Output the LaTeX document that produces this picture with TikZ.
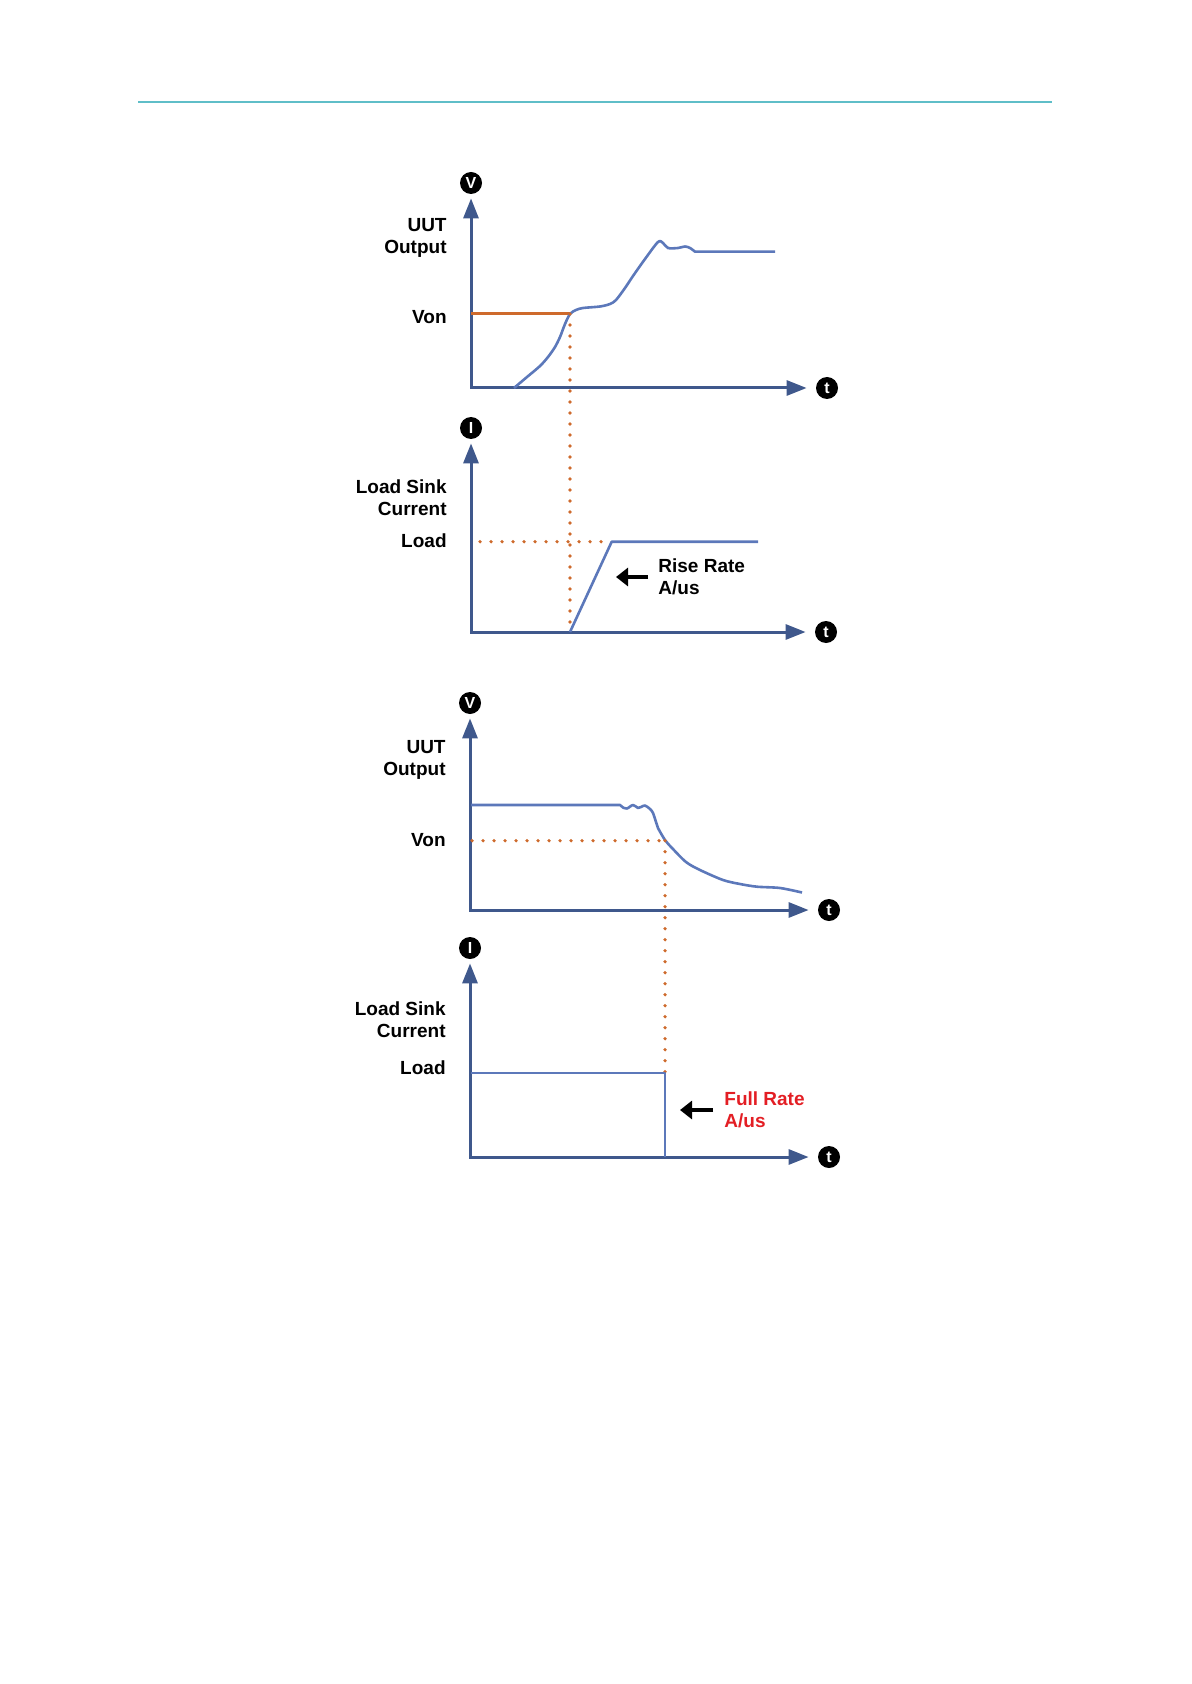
\documentclass[tikz,border=0pt]{standalone}
\usepackage{fontspec}
\setmainfont{Liberation Sans}
\usetikzlibrary{positioning, arrows.meta}
\definecolor{axisblue}{RGB}{63,88,140}
\definecolor{curveblue}{RGB}{92,120,186}
\definecolor{vonorange}{RGB}{206,106,44}
\definecolor{raterred}{RGB}{227,30,36}
\definecolor{ruleteal}{RGB}{95,190,200}

\begin{document}
\begin{tikzpicture}[x=0.5pt, y=-0.5pt,
    badge/.style={circle, fill=black, text=white, inner sep=0pt, minimum size=11pt, font=\bfseries\fontsize{8}{8}\selectfont},
    lbl/.style={inner sep=0pt, font=\bfseries\fontsize{9.5}{11}\selectfont},
    axis/.style={draw=axisblue, line width=1.5pt, {Triangle[width=7.5pt,length=10pt]}-{Triangle[width=7.5pt,length=10pt]}},
    curve/.style={draw=curveblue, line width=1.3pt, line join=round},
    dots/.style={draw=vonorange, line width=1.8pt, line cap=round, dash pattern=on 0pt off 5.5pt},
    pointer/.style={draw=black, line width=2.3pt, -{Triangle[width=9pt,length=6pt]}}]
    \useasboundingbox (0,0) rectangle (1191,1684);
    \draw[ruleteal, line width=0.6pt] (138,102) -- (1052,102);
    % V(t) at switch on
    \node[badge] (V1) at (471,183) {V};
    \node[badge] (t1) at (827,388) {t};
    \draw[axis] ([yshift=-2pt]V1.south) |- ([xshift=-4.5pt]t1.west);
    \node[lbl, anchor=east, align=right] (uut1) at (447,238) {UUT\\Output};
    \node[lbl, anchor=east] (von1) at (447,317) {Von};
    \coordinate (on1) at (570,314);
    \draw[vonorange, line width=1.5pt] (471,314) -- (on1);
    \draw[curve] plot[smooth, tension=0.5] coordinates {(514,388) (527,377) (540,366) (548,357) (555,347) (560,337) (565,324) (570,314) (576,310) (583,308) (600,306.5) (610,304) (616,300) (625,288) (633,276) (645,259) (658,242) (663,243) (668,248) (678,248) (685,246.5) (690,248) (695,251.7)} -- (775,251.7);
    % I(t) rise
    \node[badge] (I2) at (471,428) {I};
    \node[badge] (t2) at (826,632) {t};
    \draw[axis] ([yshift=-2pt]I2.south) |- ([xshift=-4.5pt]t2.west);
    \node[lbl, anchor=east, align=right] (sink2) at (447,498) {Load Sink\\Current};
    \node[lbl, anchor=east] (load2) at (447,541) {Load};
    \coordinate (start2) at (570,632);
    \draw[dots] (on1) -- (start2);
    \draw[dots] (480,541.7) -- (603,541.7);
    \draw[curve] (start2) -- (611.7,541.7) -- (758,541.7);
    \node[lbl, anchor=west, align=left] (rise2) at (658,577) {Rise Rate\\A/us};
    \draw[pointer] ([xshift=-5pt]rise2.west) -- ++(-32,0);
    % V(t) at switch off
    \node[badge] (V3) at (470,703) {V};
    \node[badge] (t3) at (829,910) {t};
    \draw[axis] ([yshift=-2pt]V3.south) |- ([xshift=-4.5pt]t3.west);
    \node[lbl, anchor=east, align=right] (uut3) at (446,760) {UUT\\Output};
    \node[lbl, anchor=east] (von3) at (446,840) {Von};
    \coordinate (off3) at (665,840.7);
    \draw[dots] (472,840.7) -- (off3);
    \draw[curve] (471,805) -- (620,805) -- plot[smooth, tension=0.5] coordinates {(623,807.5) (627,808.5) (633,805) (638,808) (641,807) (645,805.5) (650,809) (653,813) (656,822) (658,828) (665,840) (672,848) (686,862) (700,870) (723,880) (740,884) (757,886.7) (780,888) (802,892.5)};
    % I(t) full rate
    \node[badge] (I4) at (470,948) {I};
    \node[badge] (t4) at (829,1157) {t};
    \draw[axis] ([yshift=-2pt]I4.south) |- ([xshift=-4.5pt]t4.west);
    \node[lbl, anchor=east, align=right] (sink4) at (446,1020) {Load Sink\\Current};
    \node[lbl, anchor=east] (load4) at (446,1068) {Load};
    \coordinate (end4) at (665,1073);
    \draw[dots] (off3) -- (end4);
    \draw[curve] (471,1073) -- (end4) -- (665,1157);
    \node[lbl, anchor=west, align=left, text=raterred] (full4) at (724,1110) {Full Rate\\A/us};
    \draw[pointer] ([xshift=-5.5pt]full4.west) -- ++(-33,0);
\end{tikzpicture}
\end{document}
